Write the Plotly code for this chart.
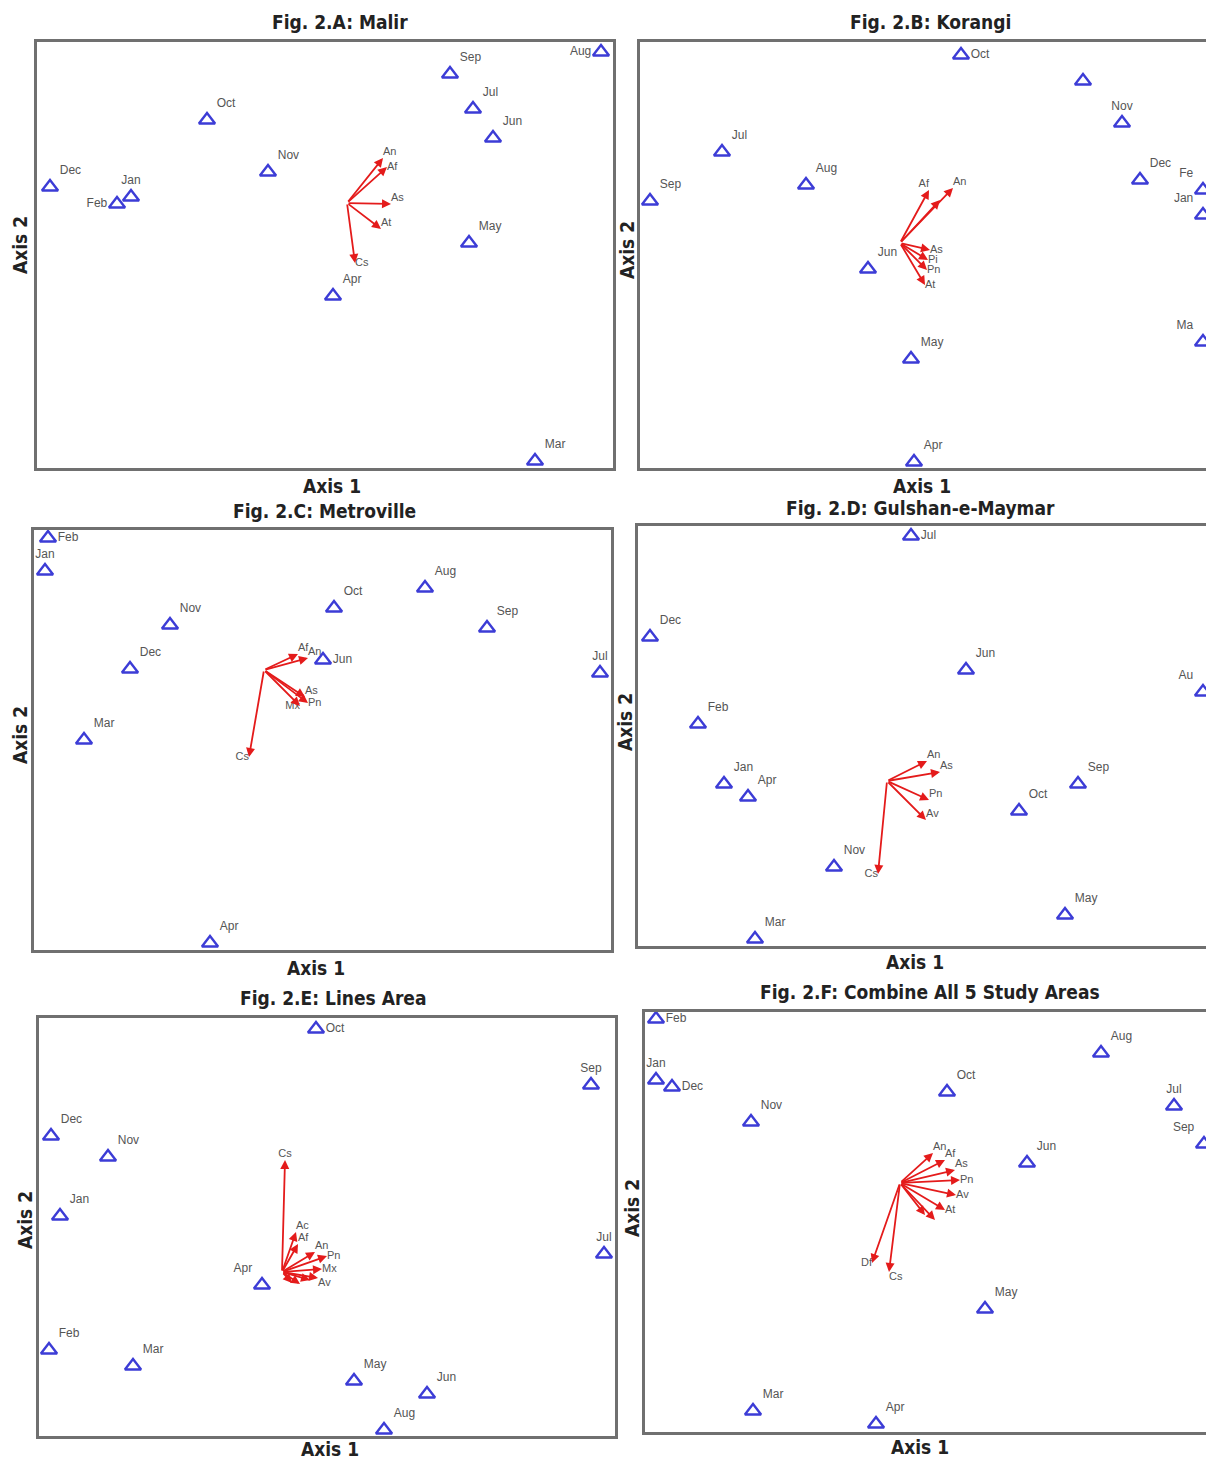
import plotly.graph_objects as go

W, H = 1206, 1462

# ---------------- DATA ----------------
# Panel A: Malir
A_months = ["Aug", "Sep", "Jul", "Jun", "Oct", "Nov", "Dec", "Jan", "Feb", "May", "Apr", "Mar"]
A_x = [2.54, 1.03, 1.26, 1.46, -1.40, -0.79, -2.97, -2.16, -2.30, 1.22, -0.14, 1.88]
A_y = [1.51, 1.29, 0.94, 0.65, 0.83, 0.31, 0.16, 0.06, -0.01, -0.40, -0.93, -2.58]
A_vars = ["An", "Af", "As", "At", "Cs"]
A_vx = [0.36, 0.40, 0.44, 0.34, 0.08]
A_vy = [0.45, 0.36, -0.01, -0.26, -0.60]

# Panel B: Korangi
B_months = ["Oct", "", "Nov", "Dec", "Fe", "Jan", "Jul", "Aug", "Sep", "Jun", "May", "Apr", "Ma"]
B_x = [0.61, 1.83, 2.22, 2.40, 3.03, 3.03, -1.78, -0.94, -2.50, -0.32, 0.11, 0.14, 3.03]
B_y = [1.88, 1.62, 1.20, 0.63, 0.53, 0.28, 0.91, 0.58, 0.42, -0.26, -1.16, -2.19, -0.99]
B_vars = ["Af", "An", "", "As", "Pi", "Pn", "At"]
B_vx = [0.29, 0.53, 0.40, 0.30, 0.28, 0.27, 0.25]
B_vy = [0.53, 0.55, 0.43, -0.07, -0.17, -0.27, -0.42]

# Panel C: Metroville
C_months = ["Feb", "Jan", "Nov", "Dec", "Mar", "Oct", "Aug", "Sep", "Jul", "Jun", "Apr"]
C_x = [-2.16, -2.19, -0.94, -1.34, -1.80, 0.70, 1.61, 2.23, 3.36, 0.59, -0.54]
C_y = [1.32, 0.99, 0.45, 0.01, -0.70, 0.62, 0.82, 0.42, -0.03, 0.10, -2.73]
C_vars = ["Af", "An", "As", "Pn", "Mx", "Cs"]
C_vx = [0.34, 0.44, 0.41, 0.44, 0.36, -0.15]
C_vy = [0.16, 0.12, -0.27, -0.33, -0.36, -0.87]

# Panel D: Gulshan-e-Maymar
D_months = ["Jul", "Dec", "Jun", "Au", "Feb", "Jan", "Apr", "Sep", "Oct", "Nov", "May", "Mar"]
D_x = [0.24, -2.37, 0.79, 3.16, -1.89, -1.63, -1.39, 1.91, 1.32, -0.53, 1.78, -1.32]
D_y = [2.45, 1.44, 1.11, 0.89, 0.57, -0.03, -0.16, -0.03, -0.30, -0.86, -1.34, -1.58]
D_vars = ["An", "As", "Pn", "Av", "Cs"]
D_vx = [0.40, 0.53, 0.42, 0.39, -0.09]
D_vy = [0.20, 0.09, -0.19, -0.39, -0.93]

# Panel E: Lines Area
E_months = ["Oct", "Sep", "Dec", "Nov", "Jan", "Jul", "Apr", "Feb", "Mar", "May", "Jun", "Aug"]
E_x = [0.34, 3.09, -2.31, -1.74, -2.22, 3.22, -0.20, -2.33, -1.49, 0.72, 1.45, 1.02]
E_y = [2.43, 1.87, 1.36, 1.15, 0.56, 0.18, -0.13, -0.78, -0.94, -1.09, -1.22, -1.58]
E_vars = ["Cs", "Ac", "Af", "An", "Pn", "Mx", "Av", "", "", ""]
E_vx = [0.03, 0.14, 0.16, 0.33, 0.45, 0.40, 0.36, 0.28, 0.18, 0.10]
E_vy = [1.12, 0.40, 0.28, 0.20, 0.16, 0.03, -0.06, -0.08, -0.12, -0.11]

# Panel F: Combine all 5 study areas
F_months = ["Feb", "Jan", "Dec", "Aug", "Oct", "Jul", "Sep", "Nov", "Jun", "May", "Mar", "Apr"]
F_x = [-2.44, -2.44, -2.28, 2.01, 0.47, 2.74, 3.04, -1.49, 1.27, 0.85, -1.47, -0.24]
F_y = [1.64, 1.03, 0.96, 1.30, 0.91, 0.77, 0.39, 0.61, 0.20, -1.26, -2.28, -2.41]
F_vars = ["An", "Af", "As", "Pn", "Av", "At", "", "", "Df", "Cs"]
F_vx = [0.33, 0.45, 0.55, 0.60, 0.56, 0.45, 0.35, 0.25, -0.28, -0.11]
F_vy = [0.30, 0.23, 0.13, 0.03, -0.12, -0.27, -0.37, -0.32, -0.80, -0.89]

titles = ["Fig. 2.A: Malir", "Fig. 2.B: Korangi", "Fig. 2.C: Metroville",
          "Fig. 2.D: Gulshan-e-Maymar", "Fig. 2.E: Lines Area",
          "Fig. 2.F: Combine All 5 Study Areas"]

# ---------------- LAYOUT / STYLE ----------------
# frame boxes in pixels (left, top, right, bottom); right panels run off the page
boxes = [(37, 42, 613, 468), (640, 42, 1206, 468),
         (34, 530, 611, 950), (638, 526, 1206, 946),
         (39, 1018, 615, 1436), (645, 1012, 1206, 1432)]
xranges = [[-3.10, 2.66], [-2.60, 3.06], [-2.30, 3.47], [-2.49, 3.19], [-2.43, 3.33], [-2.55, 3.06]]
yranges = [[-2.65, 1.61], [-2.25, 2.01], [-2.80, 1.40], [-1.65, 2.55], [-1.64, 2.54], [-2.49, 1.71]]
right_panel = [False, True, False, True, False, True]
title_pos = [(340, 22), (930, 22), (324, 511), (920, 508), (333, 998), (930, 992)]
ax1_pos = [(332, 486), (922, 486), (316, 968), (915, 962), (330, 1449), (920, 1447)]
ax2_pos = [(20, 245), (627, 250), (20, 735), (625, 722), (25, 1220), (632, 1208)]

month_pos = [
    {"Aug": "middle left", "Feb": "middle left", "Jan": "top center"},
    {"Oct": "middle right", "Jan": "top left", "Nov": "top center", "Ma": "top left", "Fe": "top left"},
    {"Feb": "middle right", "Jul": "top center", "Jun": "middle right", "Jan": "top center"},
    {"Jul": "middle right", "Au": "top left"},
    {"Oct": "middle right", "Sep": "top center", "Jul": "top center", "Apr": "top left"},
    {"Feb": "middle right", "Dec": "middle right", "Jan": "top center", "Sep": "top left",
     "Jul": "top center"},
]
var_pos = [
    {"Cs": "middle right", "An": "top right", "Af": "middle right", "As": "top right", "At": "top right"},
    {"Af": "top left", "An": "top right", "As": "middle right", "Pi": "middle right",
     "Pn": "middle right", "At": "middle right"},
    {"Mx": "middle left", "Cs": "middle left", "As": "top right", "Pn": "middle right"},
    {"Cs": "middle left", "Pn": "top right", "Av": "top right"},
    {"Cs": "top center", "An": "top right", "Pn": "middle right", "Mx": "middle right",
     "Av": "bottom right"},
    {"Df": "middle left", "Cs": "bottom right", "Pn": "middle right", "Av": "middle right",
     "At": "middle right"},
]

panels = [
    (A_months, A_x, A_y, A_vars, A_vx, A_vy),
    (B_months, B_x, B_y, B_vars, B_vx, B_vy),
    (C_months, C_x, C_y, C_vars, C_vx, C_vy),
    (D_months, D_x, D_y, D_vars, D_vx, D_vy),
    (E_months, E_x, E_y, E_vars, E_vx, E_vy),
    (F_months, F_x, F_y, F_vars, F_vx, F_vy),
]

TRI = "#3c3cd6"
RED = "#e41b1b"
LAB = "#555555"
FRAME = "#707070"
TFONT = "DejaVu Sans Condensed, Liberation Sans Narrow, Arial Narrow, sans-serif"
SFONT = "Liberation Sans, Arial, sans-serif"

fig = go.Figure()
annotations = []

for i, (months, mx, my, vars_, vx, vy) in enumerate(panels):
    n = "" if i == 0 else str(i + 1)
    xa, ya = "x" + n, "y" + n
    l, t, r, b = boxes[i]
    xdom = [l / W, r / W]
    ydom = [1 - b / H, 1 - t / H]
    fig.update_layout(**{
        "xaxis" + n: dict(domain=xdom, range=xranges[i], showgrid=False, zeroline=False,
                          showticklabels=False, ticks="", showline=True, linecolor=FRAME,
                          linewidth=2.5, mirror=True, anchor=ya, fixedrange=True),
        "yaxis" + n: dict(domain=ydom, range=yranges[i], showgrid=False, zeroline=False,
                          showticklabels=False, ticks="", showline=True, linecolor=FRAME,
                          linewidth=2.5, mirror=not right_panel[i], anchor=xa, fixedrange=True),
    })

    # arrows (biplot vectors from origin)
    for px, py in zip(vx, vy):
        annotations.append(dict(x=px, y=py, ax=0, ay=0, xref=xa, yref=ya, axref=xa, ayref=ya,
                                text="", showarrow=True, arrowhead=2, arrowsize=1.0,
                                arrowwidth=1.8, arrowcolor=RED, standoff=0))
    # vector labels
    vpos = [var_pos[i].get(v, "top right") for v in vars_]
    fig.add_trace(go.Scatter(x=vx, y=vy, xaxis=xa, yaxis=ya, mode="text", text=vars_,
                             textposition=vpos, textfont=dict(size=11, color=LAB, family=SFONT),
                             cliponaxis=False, showlegend=False, hoverinfo="skip"))
    # month points
    mpos = [month_pos[i].get(m, "top right") for m in months]
    fig.add_trace(go.Scatter(x=mx, y=my, xaxis=xa, yaxis=ya, mode="markers+text", text=months,
                             textposition=mpos,
                             textfont=dict(size=12, color=LAB, family=SFONT),
                             marker=dict(symbol="triangle-up-open", size=14, color=TRI,
                                         line=dict(width=2.4, color=TRI)),
                             cliponaxis=False, showlegend=False, hoverinfo="skip"))

    tx, ty = title_pos[i]
    annotations.append(dict(x=tx / W, y=1 - ty / H, xref="paper", yref="paper", text="<b>" + titles[i] + "</b>",
                            showarrow=False, font=dict(size=19, color="#222", family=TFONT),
                            xanchor="center", yanchor="middle"))
    a1x, a1y = ax1_pos[i]
    annotations.append(dict(x=a1x / W, y=1 - a1y / H, xref="paper", yref="paper", text="<b>Axis 1</b>",
                            showarrow=False, font=dict(size=19, color="#222", family=TFONT),
                            xanchor="center", yanchor="middle"))
    a2x, a2y = ax2_pos[i]
    annotations.append(dict(x=a2x / W, y=1 - a2y / H, xref="paper", yref="paper", text="<b>Axis 2</b>",
                            showarrow=False, textangle=-90, font=dict(size=19, color="#222", family=TFONT),
                            xanchor="center", yanchor="middle"))

fig.update_layout(width=W, height=H, margin=dict(l=0, r=0, t=0, b=0),
                  paper_bgcolor="white", plot_bgcolor="white",
                  annotations=annotations, showlegend=False)

fig.write_html("out.html", config={"displayModeBar": False},
               post_script="document.body.style.margin='0';document.body.style.overflow='hidden';")
